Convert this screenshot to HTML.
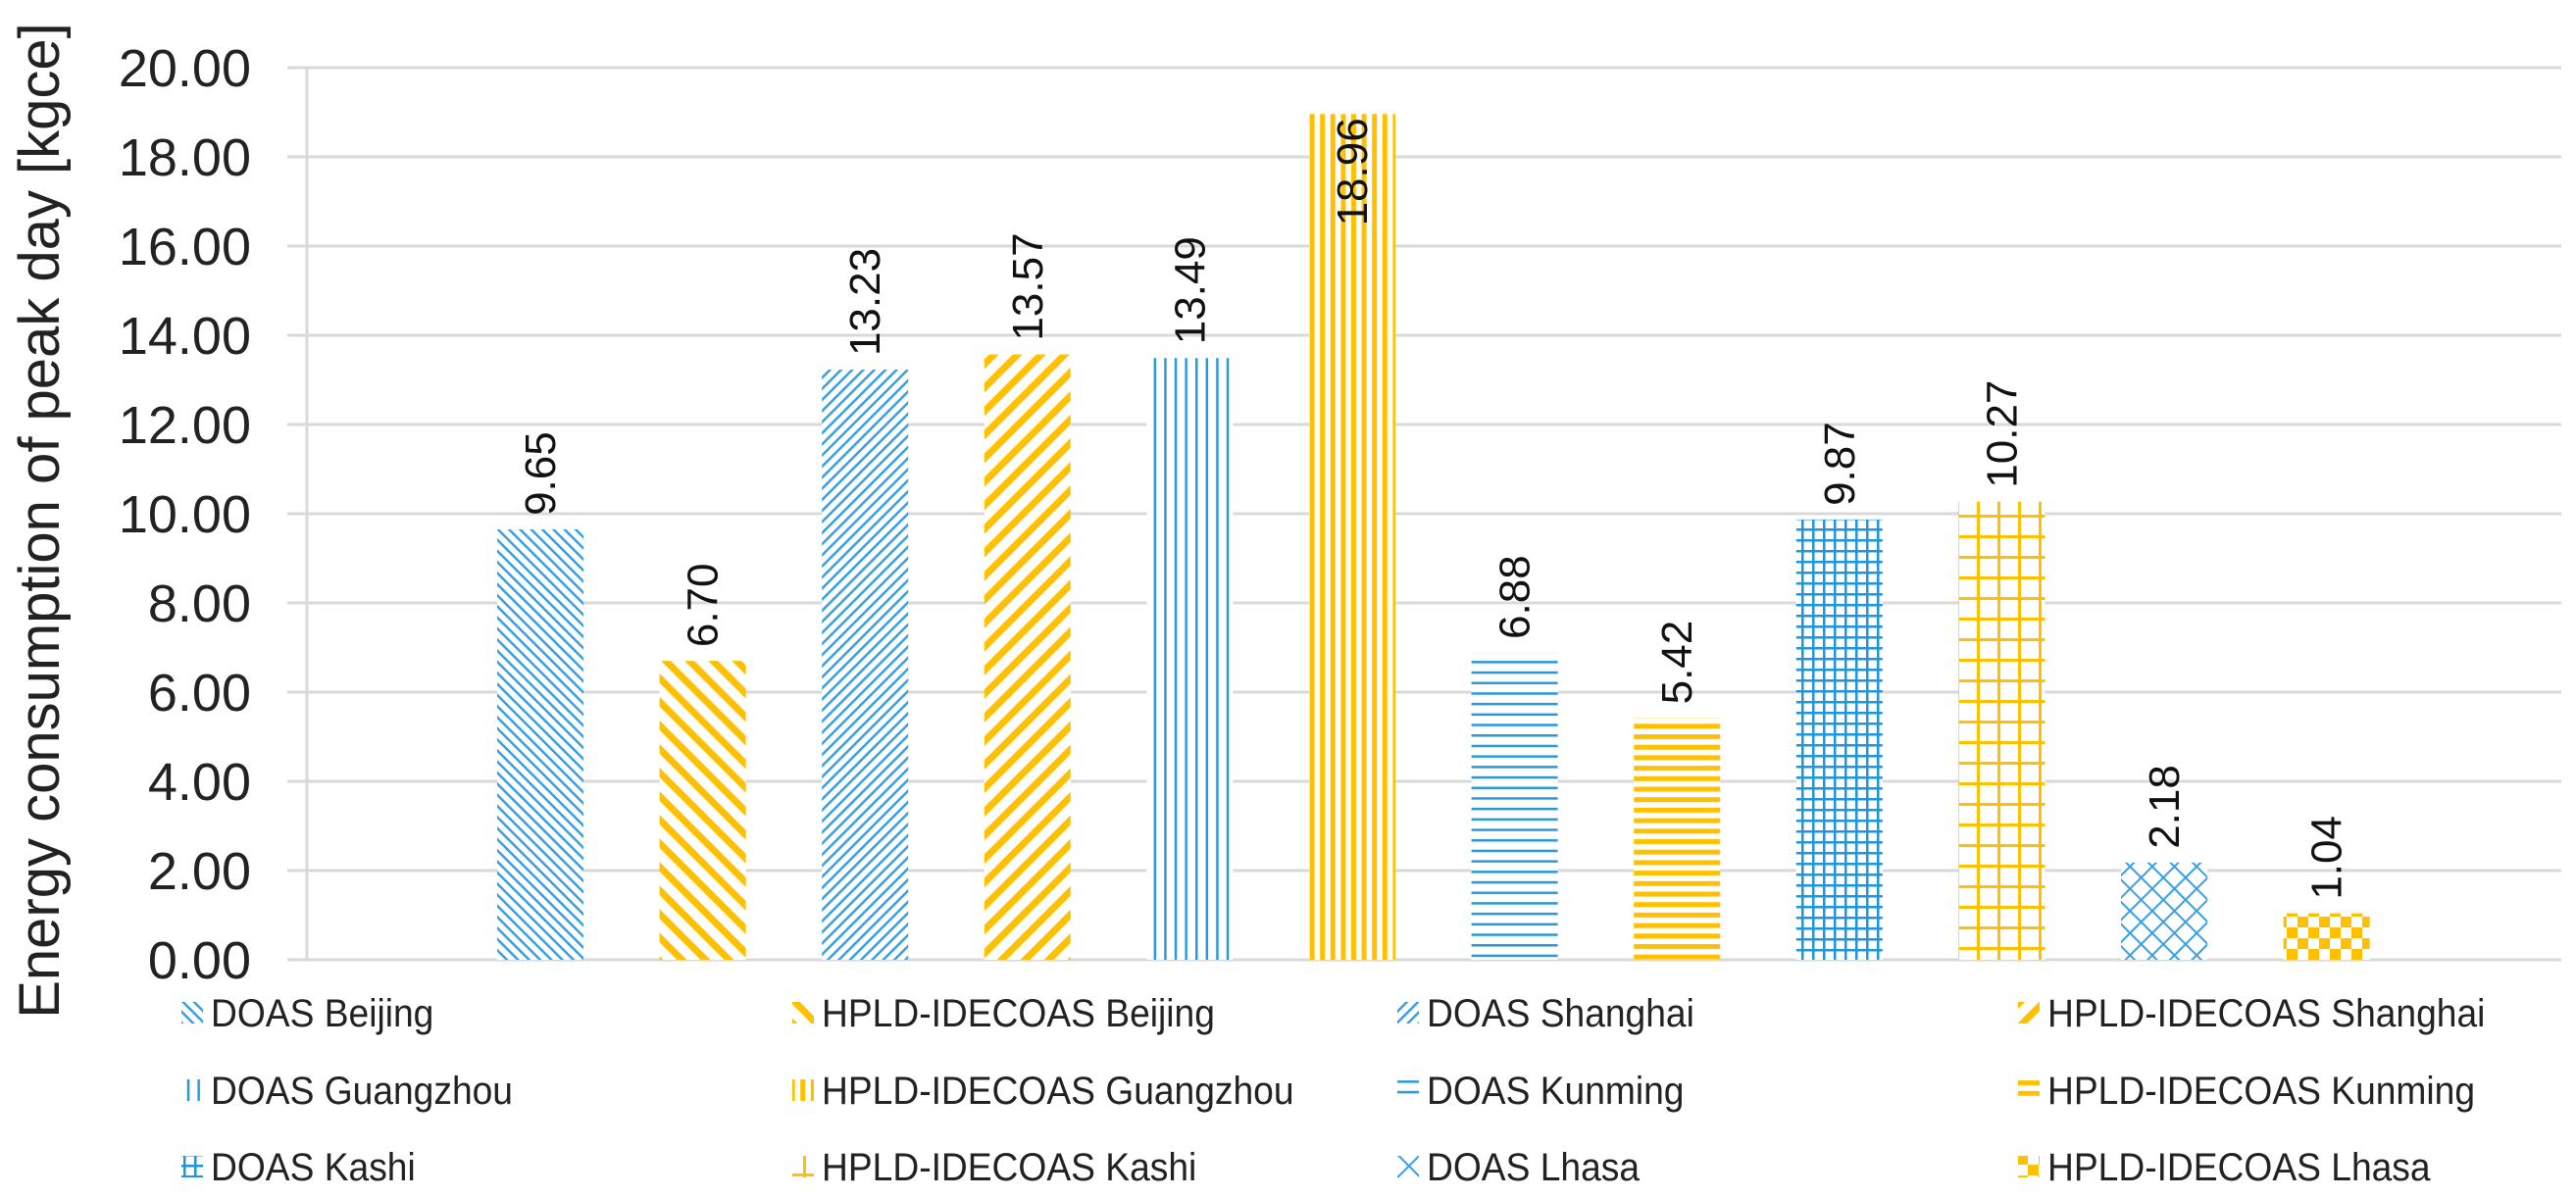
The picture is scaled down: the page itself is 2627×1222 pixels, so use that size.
<!DOCTYPE html>
<html><head><meta charset="utf-8"><style>
html,body{margin:0;padding:0;background:#fff;}
svg{display:block;}
text{font-family:"Liberation Sans",sans-serif;}
</style></head><body>
<svg id="chart" width="2627" height="1222" viewBox="0 0 2627 1222" xmlns="http://www.w3.org/2000/svg">
<defs>
  <pattern id="p0" width="8" height="8" patternUnits="userSpaceOnUse" patternTransform="rotate(-45)"><rect width="8" height="8" fill="#fff"/><rect width="2.5" height="8" fill="#3a9fe0"/></pattern>
  <pattern id="p1" width="17" height="17" patternUnits="userSpaceOnUse" patternTransform="rotate(-45)"><rect width="17" height="17" fill="#fff"/><rect width="7" height="17" fill="#ffc000"/></pattern>
  <pattern id="p2" width="8" height="8" patternUnits="userSpaceOnUse" patternTransform="rotate(45)"><rect width="8" height="8" fill="#fff"/><rect width="2.5" height="8" fill="#3a9fe0"/></pattern>
  <pattern id="p3" width="17" height="17" patternUnits="userSpaceOnUse" patternTransform="rotate(45)"><rect width="17" height="17" fill="#fff"/><rect width="7" height="17" fill="#ffc000"/></pattern>
  <pattern id="p4" width="10.6" height="10" patternUnits="userSpaceOnUse"><rect width="10.6" height="10" fill="#fff"/><rect width="2.5" height="10" fill="#2a98dc"/></pattern>
  <pattern id="p5" width="10.6" height="10" patternUnits="userSpaceOnUse"><rect width="10.6" height="10" fill="#fff"/><rect width="5" height="10" fill="#ffc000"/></pattern>
  <pattern id="p6" width="10" height="10.7" patternUnits="userSpaceOnUse"><rect width="10" height="10.7" fill="#fff"/><rect width="10" height="2.5" fill="#2a98dc"/></pattern>
  <pattern id="p7" width="10" height="10.7" patternUnits="userSpaceOnUse"><rect width="10" height="10.7" fill="#fff"/><rect width="10" height="5" fill="#ffc000"/></pattern>
  <pattern id="p8" width="11" height="11" patternUnits="userSpaceOnUse"><rect width="11" height="11" fill="#fff"/><rect width="2.5" height="11" fill="#1f95dc"/><rect width="11" height="2.5" fill="#1f95dc"/></pattern>
  <pattern id="p9" width="21" height="21" patternUnits="userSpaceOnUse"><rect width="21" height="21" fill="#fff"/><rect width="3" height="21" fill="#ffc000"/><rect width="21" height="3" fill="#ffc000"/></pattern>
  <pattern id="p10" width="16" height="16" patternUnits="userSpaceOnUse" patternTransform="rotate(45)"><rect width="16" height="16" fill="#fff"/><rect width="2" height="16" fill="#3a9fe0"/><rect width="16" height="2" fill="#3a9fe0"/></pattern>
  <pattern id="p11" width="22" height="22" patternUnits="userSpaceOnUse"><rect width="22" height="22" fill="#fff"/><rect width="11" height="11" fill="#ffc000"/><rect x="11" y="11" width="11" height="11" fill="#ffc000"/></pattern>
</defs>
<g id="grid"></g>
<g id="yticks"></g>
<line x1="313" y1="69" x2="313" y2="979" stroke="#d9d9d9" stroke-width="3"/>
<g id="bars"></g>
<g id="labels"></g>
<text transform="translate(60,531) rotate(-90)" text-anchor="middle" font-size="58" fill="#222">Energy consumption of peak  day [kgce]</text>
<g id="legend"></g>
</svg>
<script>
const series = ["DOAS Beijing","HPLD-IDECOAS Beijing","DOAS Shanghai","HPLD-IDECOAS Shanghai","DOAS Guangzhou","HPLD-IDECOAS Guangzhou","DOAS Kunming","HPLD-IDECOAS Kunming","DOAS Kashi","HPLD-IDECOAS Kashi","DOAS Lhasa","HPLD-IDECOAS Lhasa"];
const values = [9.65, 6.70, 13.23, 13.57, 13.49, 18.96, 6.88, 5.42, 9.87, 10.27, 2.18, 1.04];
const valueLabels = ["9.65","6.70","13.23","13.57","13.49","18.96","6.88","5.42","9.87","10.27","2.18","1.04"];
const tickValues = [0,2,4,6,8,10,12,14,16,18,20];
const tickLabels = ["0.00","2.00","4.00","6.00","8.00","10.00","12.00","14.00","16.00","18.00","20.00"];

const NS = "http://www.w3.org/2000/svg";
const Y0 = 979, Y1 = 69, VMAX = 20;
function y(v){ return Y0 - (v / VMAX) * (Y0 - Y1); }
function xc(i){ return 551 + i * 165.6; }
function mk(tag, attrs, parent){ const e = document.createElementNS(NS, tag); for (const k in attrs) e.setAttribute(k, attrs[k]); parent.appendChild(e); return e; }

const grid = document.getElementById('grid');
const yt = document.getElementById('yticks');
tickValues.forEach((t, i) => {
  const l = mk('line', {x1: 293, x2: 2612, y1: y(t), y2: y(t), stroke: '#d9d9d9', 'stroke-width': 3}, grid);
  
  
  const tx = mk('text', {x: 256, y: y(t) + 19, 'text-anchor': 'end', 'font-size': 54, fill: '#222'}, yt);
  tx.textContent = tickLabels[i];
  
  
});

const bars = document.getElementById('bars');
const labels = document.getElementById('labels');
values.forEach((v, i) => {
  const r = mk('rect', {x: xc(i) - 44, y: y(v), width: 88, height: Y0 - y(v), fill: 'url(#p' + i + ')'}, bars);
  
  
  const inside = y(v) - 14 - 100 < 10;
  const ty = inside ? y(v) + 4 : y(v) - 14;
  const tx = mk('text', {transform: 'translate(' + (xc(i) + 15) + ',' + ty + ') rotate(-90)', 'font-size': 44, fill: '#111', 'text-anchor': inside ? 'end' : 'start'}, labels);
  tx.textContent = valueLabels[i];
  
  
});

const legend = document.getElementById('legend');
const colX = [185, 808, 1425, 2058];
const rowY = [1033, 1112, 1190];
series.forEach((s, i) => {
  const cx = colX[i % 4], cy = rowY[Math.floor(i / 4)];
  const g = mk('g', {}, legend);
  
  
  mk('rect', {x: cx, y: cy - 11, width: 22, height: 22, fill: 'url(#p' + i + ')'}, g);
  const tx = mk('text', {transform: 'translate(' + (cx + 30) + ',' + (cy + 14) + ') scale(0.93,1)', 'font-size': 40, fill: '#222'}, g);
  tx.textContent = s;
});
</script>
</body></html>
